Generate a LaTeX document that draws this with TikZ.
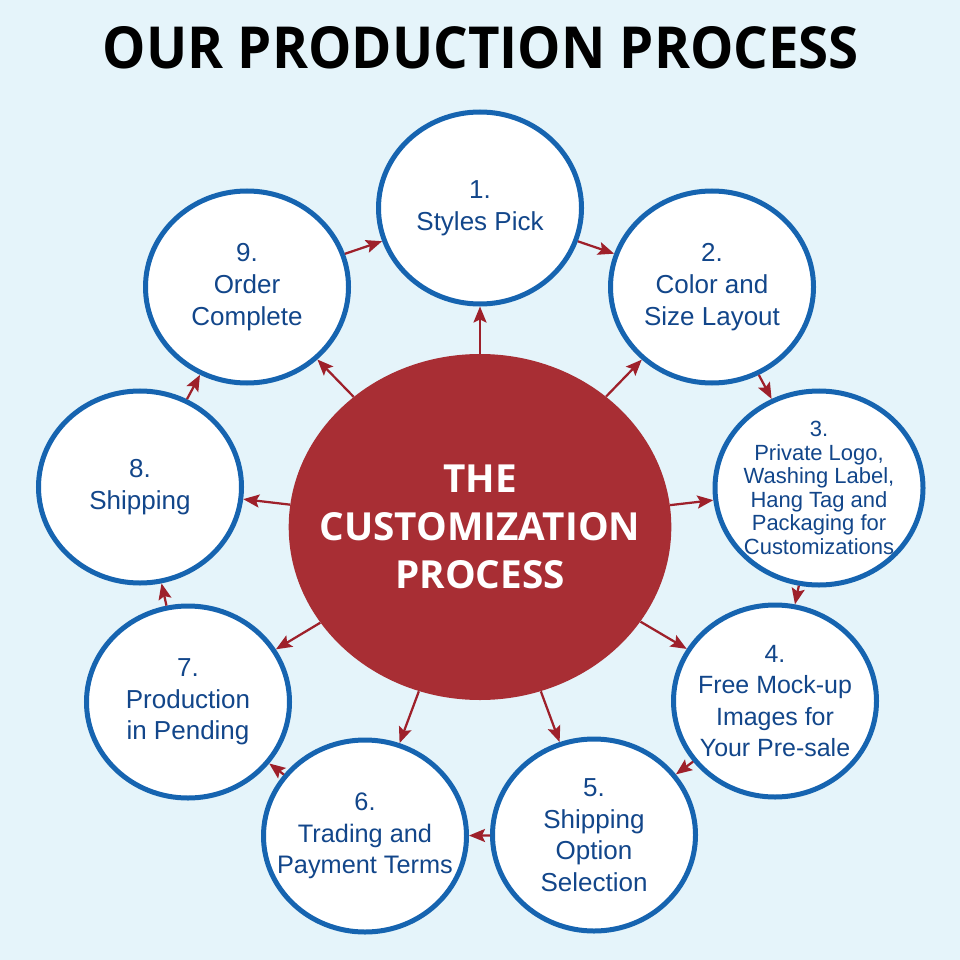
\documentclass[tikz,border=0pt]{standalone}
\usepackage{graphicx}
\usepackage{fontspec}
\setmainfont{Liberation Sans}
\newfontfamily\headfont{Open Sans}
\usepackage{tikz}
\usetikzlibrary{shapes.geometric, arrows.meta, positioning}

\definecolor{bgblue}{RGB}{229,244,250}
\definecolor{ringblue}{RGB}{22,100,176}
\definecolor{textblue}{RGB}{18,70,138}
\definecolor{coreRed}{RGB}{168,46,52}
\definecolor{arrowRed}{RGB}{158,32,42}

\tikzset{
    stage/.style={ellipse, draw=ringblue, line width=1mm, fill=white,
        minimum width=40.6mm, minimum height=38.4mm, inner sep=-5mm,
        align=center, text=textblue, font=\fontsize{14.8}{18}\selectfont},
    core/.style={ellipse, fill=coreRed, minimum width=72mm, minimum height=69.2mm,
        inner sep=-5mm, align=center, text=white,
        font=\headfont\bfseries\fontsize{22}{27.2}\selectfont},
    flow/.style={-{Stealth[length=3.2mm, width=2.6mm, inset=0.6mm]}, arrowRed, line width=0.45mm}
}

\begin{document}
\begin{tikzpicture}[x=0.2mm, y=-0.2mm]

    % --- 1. BACKGROUND ---
    \fill[bgblue] (0,0) rectangle (960,960);

    % --- 2. TITLE ---
    \node (title) at (481,48) {\resizebox{151.2mm}{8.4mm}{\headfont\bfseries OUR PRODUCTION PROCESS}};

    % --- 3. CENTRE ---
    \node[core] (core) at (480,527) {THE\\CUSTOMIZATION\\PROCESS};

    % --- 4. STAGES (clockwise from the top) ---
    \node[stage] (s1) at (480,208) {1.\\Styles Pick};
    \node[stage] (s2) at (712,287) {2.\\Color and\\Size Layout};
    \node[stage, minimum width=41.6mm, minimum height=38.8mm,
          font=\fontsize{12.5}{13.4}\selectfont] (s3) at (819,488)
          {3.\\Private Logo,\\Washing Label,\\Hang Tag and\\Packaging for\\Customizations};
    \node[stage, font=\fontsize{14.2}{18}\selectfont] (s4) at (775,701) {4.\\Free Mock-up\\Images for\\Your Pre-sale};
    \node[stage] (s5) at (594,835) {5.\\Shipping\\Option\\Selection};
    \node[stage, font=\fontsize{14.4}{18}\selectfont] (s6) at (365,836) {6.\\Trading and\\Payment Terms};
    \node[stage] (s7) at (188,702) {7.\\Production\\in Pending};
    \node[stage] (s8) at (140,487) {8.\\Shipping};
    \node[stage] (s9) at (247,287) {9.\\Order\\Complete};

    % --- 5. ARROWS ---
    % from the centre outwards
    \foreach \i in {1,...,9}
        \draw[flow] (core) -- (s\i);

    % round the ring
    \draw[flow] (s1) -- (s2);
    \draw[flow] (s2) -- (s3);
    \draw[flow] (s3) -- (s4);
    \draw[flow] (s4) -- (s5);
    \draw[flow] (s5) -- (s6);
    \draw[flow] (s6) -- (s7);
    \draw[flow] (s7) -- (s8);
    \draw[flow] (s8) -- (s9);
    \draw[flow] (s9) -- (s1);

\end{tikzpicture}
\end{document}
